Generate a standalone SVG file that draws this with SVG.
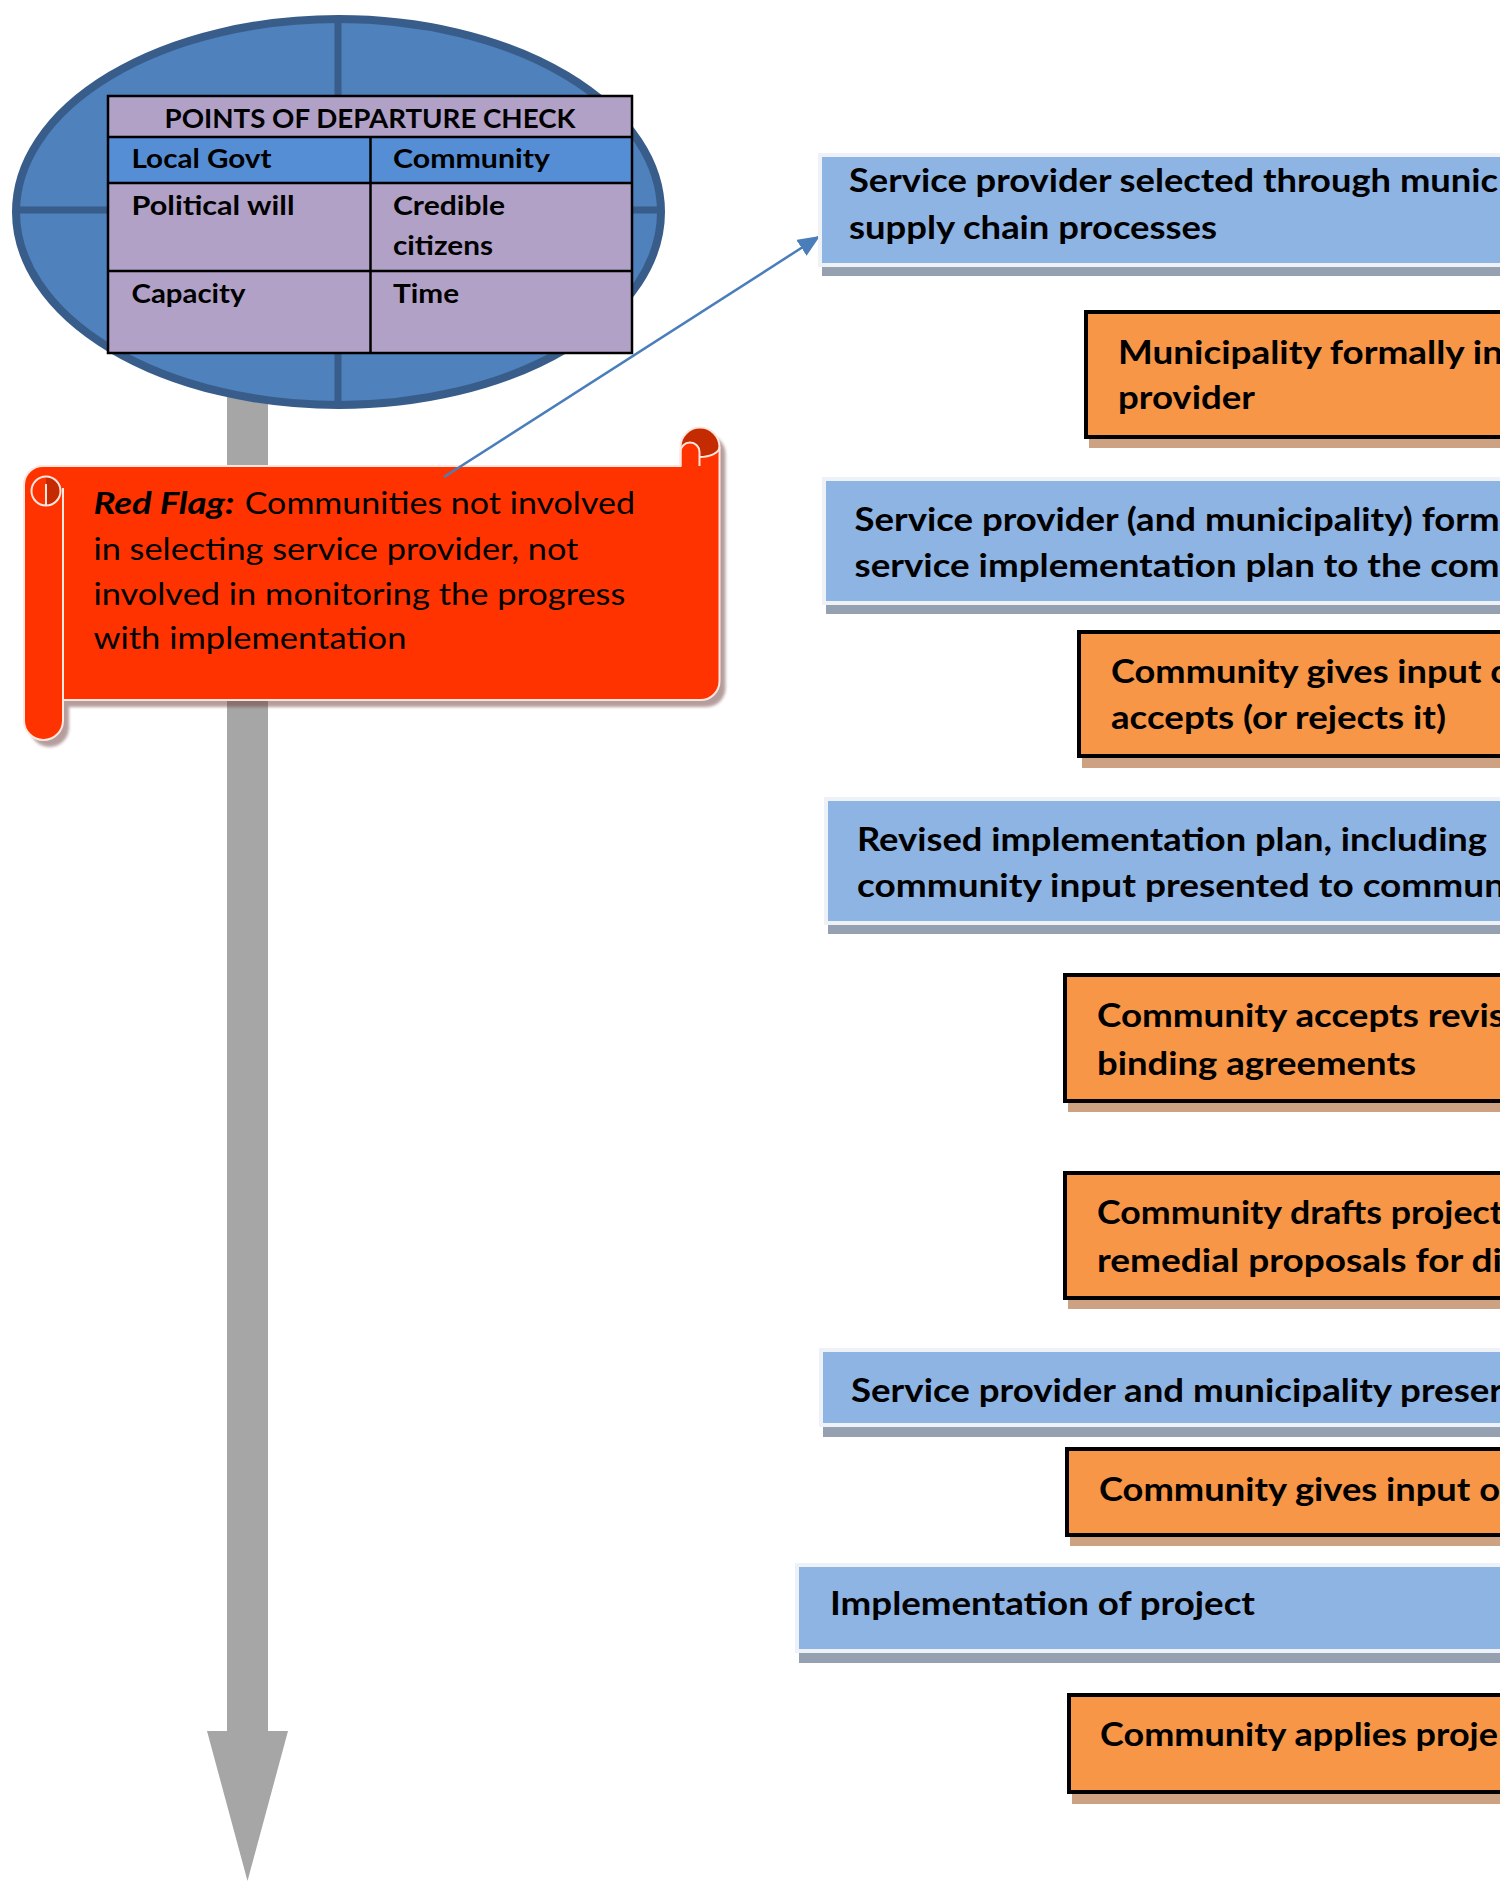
<svg xmlns="http://www.w3.org/2000/svg" xmlns:xlink="http://www.w3.org/1999/xlink" width="1500" height="1881" viewBox="0 0 1500 1881">
  <style>
    .box-text { font-family: Lato, "Liberation Sans", sans-serif; font-weight: 700; font-size: 33px; fill: #000; }
    .tbl-text { font-family: Lato, "Liberation Sans", sans-serif; font-weight: 700; font-size: 26.5px; fill: #000; }
    .flag-text { font-family: Lato, "Liberation Sans", sans-serif; font-weight: 400; font-size: 30px; fill: #000; }
    .blue-shadow { fill: #95a1b1; }
    .blue-box { fill: #8eb4e3; stroke: #eef2f7; stroke-width: 4; }
    .orange-shadow { fill: #cda283; }
    .orange-box { fill: #f79646; stroke: #000; stroke-width: 4; }
    .tbl-cell { fill: #b2a1c7; }
    .tbl-head { fill: #558ed5; }
    .tbl-line { stroke: #000; stroke-width: 2.5; fill: none; }
    .disc-line { stroke: #385d8a; stroke-width: 7; fill: none; }
    .flag-body { fill: #ff3300; }
    .flag-dark { fill: #c42b00; }
    .flag-edge { fill: none; stroke: #ffe6df; stroke-width: 2; }
    .connector { stroke: #4a7ebb; stroke-width: 2.5; fill: none; }
  </style>
  <defs>
    <marker id="arrow-blue" markerUnits="userSpaceOnUse" markerWidth="24" markerHeight="20" refX="22" refY="9.5" orient="auto">
      <path d="M0,0 L22,9.5 L0,19 Z" fill="#4a7ebb"/>
    </marker>
    <filter id="soft" x="-5%" y="-5%" width="110%" height="110%">
      <feGaussianBlur stdDeviation="1.5"/>
    </filter>
    <path id="flag-shape" d="M24,485 A19,19 0 0 1 43,466 L680.5,466 L680.5,447 A19.5,19.5 0 0 1 719.5,447 L719.5,681 A19,19 0 0 1 700.5,700 L63,700 L63,720.5 A19.5,19.5 0 0 1 24,720.5 Z"/>
  </defs>

  <rect width="1500" height="1881" fill="#ffffff"/>

  <!-- vertical timeline arrow -->
  <g id="timeline">
    <rect x="227" y="380" width="41" height="1352" fill="#a6a6a6"/>
    <polygon points="207,1731 288,1731 247.5,1881" fill="#a6a6a6"/>
  </g>

  <!-- points of departure disc with check table -->
  <g id="departure-check">
    <ellipse cx="338.5" cy="212" rx="322.5" ry="193" fill="#4f81bd" stroke="#385d8a" stroke-width="8"/>
    <line class="disc-line" x1="338" y1="20" x2="338" y2="404"/>
    <line class="disc-line" x1="17" y1="210" x2="660" y2="210"/>
    <rect class="tbl-cell" x="108" y="96" width="524" height="257"/>
    <rect class="tbl-head" x="108" y="137" width="524" height="46"/>
    <rect class="tbl-line" x="108" y="96" width="524" height="257"/>
    <line class="tbl-line" x1="108" y1="137" x2="632" y2="137"/>
    <line class="tbl-line" x1="108" y1="183" x2="632" y2="183"/>
    <line class="tbl-line" x1="108" y1="271" x2="632" y2="271"/>
    <line class="tbl-line" x1="370.5" y1="137" x2="370.5" y2="353"/>
    <text class="tbl-text" x="370" y="128" text-anchor="middle" textLength="411" lengthAdjust="spacingAndGlyphs">POINTS OF DEPARTURE CHECK</text>
    <text class="tbl-text" x="131.5" y="168" textLength="140" lengthAdjust="spacingAndGlyphs">Local Govt</text>
    <text class="tbl-text" x="393" y="168" textLength="157" lengthAdjust="spacingAndGlyphs">Community</text>
    <text class="tbl-text" x="131.5" y="215" textLength="163" lengthAdjust="spacingAndGlyphs">Political will</text>
    <text class="tbl-text" x="393" y="215" textLength="112" lengthAdjust="spacingAndGlyphs">Credible</text>
    <text class="tbl-text" x="393" y="255" textLength="100" lengthAdjust="spacingAndGlyphs">citizens</text>
    <text class="tbl-text" x="131.5" y="303" textLength="114" lengthAdjust="spacingAndGlyphs">Capacity</text>
    <text class="tbl-text" x="393" y="303" textLength="66" lengthAdjust="spacingAndGlyphs">Time</text>
  </g>

  <!-- red flag scroll -->
  <g id="red-flag">
    <use xlink:href="#flag-shape" transform="translate(6,7)" fill="#6e3c3c" opacity="0.5" filter="url(#soft)"/>
    <use xlink:href="#flag-shape" class="flag-body"/>
    <!-- top-right curl -->
    <circle class="flag-dark" cx="700" cy="447" r="19.5"/>
    <path class="flag-body" d="M699.5,467 V457 A20,10 0 0 0 719.5,447 V467 Z"/>
    <path class="flag-edge" d="M699.5,457 A20,10 0 0 0 719.5,447"/>
    <path class="flag-body" d="M680.5,467 V452 A9.5,9.5 0 0 1 699.5,452 V467 Z"/>
    <path class="flag-edge" d="M680.5,466 V452 A9.5,9.5 0 0 1 699.5,452 V466"/>
    <!-- left roll curl -->
    <circle class="flag-body" cx="46" cy="491" r="14.5"/>
    <path class="flag-dark" d="M46,476.5 A14.5,14.5 0 0 1 46,505.5 Z"/>
    <circle class="flag-edge" cx="46" cy="491" r="14.5"/>
    <line class="flag-edge" x1="46" y1="484" x2="46" y2="505.5"/>
    <line class="flag-edge" x1="63" y1="488" x2="63" y2="721"/>
    <use xlink:href="#flag-shape" class="flag-edge"/>
    <text class="flag-text" y="514"><tspan x="93.4" font-weight="700" font-style="italic" textLength="141" lengthAdjust="spacingAndGlyphs">Red Flag:</tspan><tspan x="236" textLength="399" lengthAdjust="spacingAndGlyphs"> Communities not involved</tspan></text>
    <text class="flag-text" x="93.4" y="560" textLength="485" lengthAdjust="spacingAndGlyphs">in selecting service provider, not</text>
    <text class="flag-text" x="93.4" y="605" textLength="532" lengthAdjust="spacingAndGlyphs">involved in monitoring the progress</text>
    <text class="flag-text" x="93.4" y="649" textLength="313" lengthAdjust="spacingAndGlyphs">with implementation</text>
  </g>

  <!-- connectors -->
  <g id="connectors">
    <line class="connector" x1="444" y1="477" x2="820" y2="236" marker-end="url(#arrow-blue)"/>
  </g>

  <!-- process steps -->
  <g id="step-1">
    <rect class="blue-shadow" x="822" y="166" width="700" height="110"/>
    <rect class="blue-box" x="820" y="155" width="700" height="110"/>
    <text class="box-text" x="849" y="192" textLength="649" lengthAdjust="spacingAndGlyphs">Service provider selected through munic</text>
    <text class="box-text" x="849" y="239" textLength="368" lengthAdjust="spacingAndGlyphs">supply chain processes</text>
  </g>
  <g id="step-2">
    <rect class="orange-shadow" x="1089" y="319" width="440" height="129"/>
    <rect class="orange-box" x="1086" y="312" width="440" height="125"/>
    <text class="box-text" x="1118" y="364" textLength="385" lengthAdjust="spacingAndGlyphs">Municipality formally in</text>
    <text class="box-text" x="1118" y="409" textLength="137" lengthAdjust="spacingAndGlyphs">provider</text>
  </g>
  <g id="step-3">
    <rect class="blue-shadow" x="826" y="490" width="700" height="124"/>
    <rect class="blue-box" x="824" y="479" width="700" height="124"/>
    <text class="box-text" x="854.5" y="531" textLength="645" lengthAdjust="spacingAndGlyphs">Service provider (and municipality) form</text>
    <text class="box-text" x="854.5" y="577" textLength="645" lengthAdjust="spacingAndGlyphs">service implementation plan to the com</text>
  </g>
  <g id="step-4">
    <rect class="orange-shadow" x="1082" y="639" width="440" height="129"/>
    <rect class="orange-box" x="1079" y="632" width="440" height="124"/>
    <text class="box-text" x="1111" y="683" textLength="400" lengthAdjust="spacingAndGlyphs">Community gives input o</text>
    <text class="box-text" x="1111" y="729" textLength="335" lengthAdjust="spacingAndGlyphs">accepts (or rejects it)</text>
  </g>
  <g id="step-5">
    <rect class="blue-shadow" x="828" y="810" width="700" height="124"/>
    <rect class="blue-box" x="826" y="799" width="700" height="124"/>
    <text class="box-text" x="857" y="851" textLength="630" lengthAdjust="spacingAndGlyphs">Revised implementation plan, including</text>
    <text class="box-text" x="857" y="897" textLength="648" lengthAdjust="spacingAndGlyphs">community input presented to commun</text>
  </g>
  <g id="step-6">
    <rect class="orange-shadow" x="1068" y="982" width="460" height="130"/>
    <rect class="orange-box" x="1065" y="975" width="460" height="126"/>
    <text class="box-text" x="1097" y="1027" textLength="408" lengthAdjust="spacingAndGlyphs">Community accepts revis</text>
    <text class="box-text" x="1097" y="1075" textLength="319" lengthAdjust="spacingAndGlyphs">binding agreements</text>
  </g>
  <g id="step-7">
    <rect class="orange-shadow" x="1068" y="1180" width="460" height="129"/>
    <rect class="orange-box" x="1065" y="1173" width="460" height="125"/>
    <text class="box-text" x="1097" y="1224" textLength="406" lengthAdjust="spacingAndGlyphs">Community drafts project</text>
    <text class="box-text" x="1097" y="1272" textLength="405" lengthAdjust="spacingAndGlyphs">remedial proposals for di</text>
  </g>
  <g id="step-8">
    <rect class="blue-shadow" x="823" y="1361" width="700" height="76"/>
    <rect class="blue-box" x="821" y="1350" width="700" height="75"/>
    <text class="box-text" x="851" y="1402" textLength="652" lengthAdjust="spacingAndGlyphs">Service provider and municipality preser</text>
  </g>
  <g id="step-9">
    <rect class="orange-shadow" x="1070" y="1456" width="460" height="90"/>
    <rect class="orange-box" x="1067" y="1449" width="460" height="86"/>
    <text class="box-text" x="1099" y="1501" textLength="401" lengthAdjust="spacingAndGlyphs">Community gives input o</text>
  </g>
  <g id="step-10">
    <rect class="blue-shadow" x="799" y="1576" width="720" height="87"/>
    <rect class="blue-box" x="797" y="1565" width="720" height="86"/>
    <text class="box-text" x="830" y="1615" textLength="425" lengthAdjust="spacingAndGlyphs">Implementation of project</text>
  </g>
  <g id="step-11">
    <rect class="orange-shadow" x="1072" y="1703" width="460" height="101"/>
    <rect class="orange-box" x="1069" y="1695" width="460" height="97"/>
    <text class="box-text" x="1100" y="1746" textLength="398" lengthAdjust="spacingAndGlyphs">Community applies proje</text>
  </g>
</svg>
